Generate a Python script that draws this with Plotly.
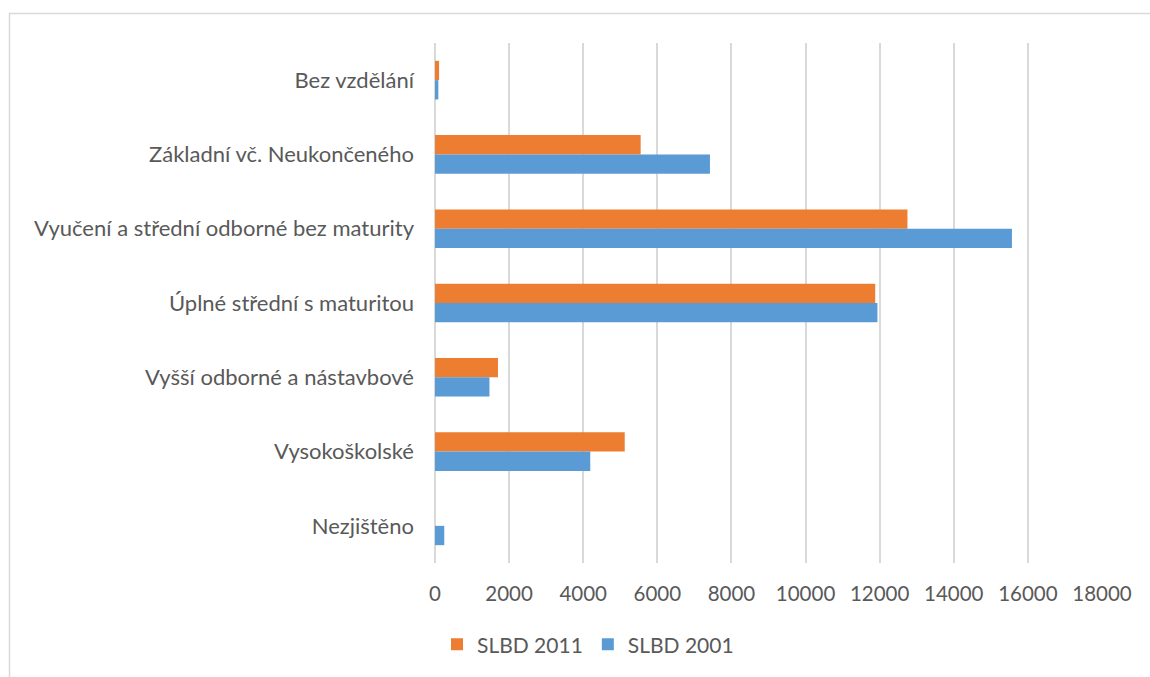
import plotly.graph_objects as go

categories = ["Bez vzdělání", "Základní vč. Neukončeného",
              "Vyučení a střední odborné bez maturity", "Úplné střední s maturitou",
              "Vyšší odborné a nástavbové", "Vysokoškolské", "Nezjištěno"]
slbd_2011 = [110, 5550, 12750, 11880, 1700, 5120, 0]
slbd_2001 = [90, 7420, 15570, 11940, 1470, 4190, 250]
tick_vals = [0, 2000, 4000, 6000, 8000, 10000, 12000, 14000, 16000, 18000]
tick_text = ["0", "2000", "4000", "6000", "8000", "10000", "12000", "14000", "16000", "18000"]

W, H = 1150, 677
L, R, T, B = 435, 48, 43, 112
pw, ph = W - L - R, H - T - B

def px_x(p):
    return (p - L) / pw

def px_y(p):
    return (H - B - p) / ph

FONT = "Lato"
TXT = "#595959"

fig = go.Figure()
fig.add_trace(go.Bar(y=categories, x=slbd_2011, orientation="h", name="SLBD 2011",
                     marker=dict(color="#ED7D31", line=dict(width=0))))
fig.add_trace(go.Bar(y=categories, x=slbd_2001, orientation="h", name="SLBD 2001",
                     marker=dict(color="#5B9BD5", line=dict(width=0))))

fig.update_layout(
    width=W, height=H,
    margin=dict(l=L, r=R, t=T, b=B),
    paper_bgcolor="white", plot_bgcolor="white",
    barmode="group", bargap=0.48, bargroupgap=0,
    font=dict(family=FONT, size=20, color=TXT),
    xaxis=dict(range=[0, 18000], tickvals=tick_vals, ticktext=tick_text, showgrid=True,
               gridcolor="#D9D9D9", gridwidth=1.5, zeroline=True,
               zerolinecolor="#D9D9D9", zerolinewidth=1.5, showline=False,
               ticks="outside", ticklen=12, tickcolor="rgba(0,0,0,0)",
               tickfont=dict(family=FONT, size=20.5, color=TXT)),
    yaxis=dict(autorange="reversed", showgrid=False, showline=False,
               ticks="", ticklabelstandoff=20,
               tickfont=dict(family=FONT, size=22, color=TXT)),
    legend=dict(orientation="h", x=px_x(437), xanchor="left",
                y=px_y(647), yanchor="middle",
                font=dict(family=FONT, size=21, color=TXT),
                itemwidth=30, tracegroupgap=0, traceorder="normal"),
    shapes=[
        dict(type="line", xref="paper", yref="paper", x0=px_x(9), x1=px_x(1160),
             y0=px_y(13.5), y1=px_y(13.5), line=dict(color="#D9D9D9", width=1.5)),
        dict(type="line", xref="paper", yref="paper", x0=px_x(9.5), x1=px_x(9.5),
             y0=px_y(13), y1=px_y(690), line=dict(color="#D9D9D9", width=1.5)),
    ],
)

fig.write_html("out.html", config={"displayModeBar": False},
               post_script="document.body.style.margin='0';")
